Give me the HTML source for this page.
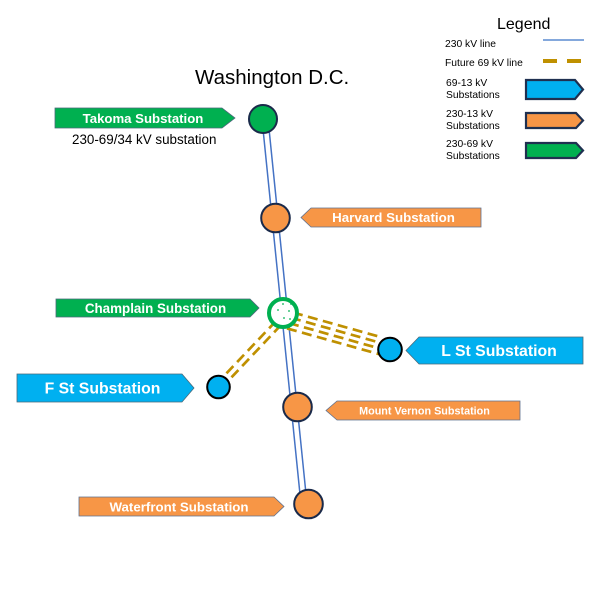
<!DOCTYPE html>
<html>
<head>
<meta charset="utf-8">
<style>
html,body{margin:0;padding:0;background:#fff;}
svg{display:block;}
text{font-family:"Liberation Sans",Arial,sans-serif;}
</style>
</head>
<body>
<svg width="600" height="600" viewBox="0 0 600 600" xmlns="http://www.w3.org/2000/svg">
<rect width="600" height="600" fill="#fff"/>

<!-- Title -->
<text x="195" y="84" font-size="20.5" fill="#000">Washington D.C.</text>

<!-- Legend -->
<text x="497" y="29" font-size="16" fill="#000">Legend</text>
<text x="445" y="47" font-size="10.3" fill="#000">230 kV line</text>
<line x1="543" y1="40" x2="584" y2="40" stroke="#5b8bd0" stroke-width="1.5"/>
<text x="445" y="66" font-size="10.3" fill="#000">Future 69 kV line</text>
<line x1="543" y1="61" x2="557" y2="61" stroke="#bf9000" stroke-width="4"/>
<line x1="567" y1="61" x2="581" y2="61" stroke="#bf9000" stroke-width="4"/>
<text x="446" y="86" font-size="10.3" fill="#000">69-13 kV</text>
<text x="446" y="98" font-size="10.3" fill="#000">Substations</text>
<polygon points="526,80 575,80 583,89.5 575,99 526,99" fill="#00b0f0" stroke="#1f3050" stroke-width="2.2"/>
<text x="446" y="117" font-size="10.3" fill="#000">230-13 kV</text>
<text x="446" y="129" font-size="10.3" fill="#000">Substations</text>
<polygon points="526,113 576,113 583,120.5 576,128 526,128" fill="#f79646" stroke="#1f3050" stroke-width="2.2"/>
<text x="446" y="147" font-size="10.3" fill="#000">230-69 kV</text>
<text x="446" y="159" font-size="10.3" fill="#000">Substations</text>
<polygon points="526,143 576,143 583,150.5 576,158 526,158" fill="#00b050" stroke="#1f3050" stroke-width="2.2"/>

<!-- 230 kV double line -->
<line x1="265" y1="119" x2="304" y2="504" stroke="#4472c4" stroke-width="7.5"/>
<line x1="265" y1="119" x2="304" y2="504" stroke="#fff" stroke-width="4.5"/>

<!-- Future 69 kV dashed lines to L St -->
<g stroke="#bf9000" stroke-width="2.7" stroke-dasharray="10,5.5" fill="none">
  <line x1="293" y1="312.5" x2="379" y2="336.6"/>
  <line x1="291" y1="317.8" x2="380" y2="342.7"/>
  <line x1="289" y1="323.1" x2="381" y2="348.9"/>
  <line x1="287" y1="328.4" x2="381" y2="354.7"/>
</g>
<!-- Future 69 kV dashed lines to F St -->
<g stroke="#bf9000" stroke-width="2.7" stroke-dasharray="10,5.5" fill="none">
  <line x1="276" y1="321" x2="222" y2="378"/>
  <line x1="281" y1="325" x2="228" y2="381"/>
</g>

<!-- Circles -->
<circle cx="263" cy="119" r="14" fill="#00b050" stroke="#1a2a4a" stroke-width="2"/>
<circle cx="275.5" cy="218" r="14.3" fill="#f79646" stroke="#1a2a4a" stroke-width="2"/>
<circle cx="283" cy="313" r="14" fill="#fff" stroke="#00b050" stroke-width="4"/>
<g fill="#00b050">
  <circle cx="283" cy="304" r="0.9"/>
  <circle cx="291" cy="304" r="0.9"/>
  <circle cx="278" cy="310" r="0.9"/>
  <circle cx="289" cy="311" r="0.9"/>
  <circle cx="284" cy="318" r="0.9"/>
  <circle cx="290" cy="319" r="0.9"/>
</g>
<circle cx="390" cy="349.5" r="11.8" fill="#00b0f0" stroke="#000" stroke-width="2"/>
<circle cx="218.5" cy="387" r="11.3" fill="#00b0f0" stroke="#000" stroke-width="2"/>
<circle cx="297.5" cy="407" r="14.3" fill="#f79646" stroke="#1a2a4a" stroke-width="2"/>
<circle cx="308.5" cy="504" r="14.3" fill="#f79646" stroke="#1a2a4a" stroke-width="2"/>

<!-- Labels -->
<!-- Takoma -->
<polygon points="55,108 222,108 235,118 222,128 55,128" fill="#00b050" stroke="#4a6a7a" stroke-width="0.8"/>
<text x="143" y="123" font-size="13.2" font-weight="bold" fill="#fff" text-anchor="middle">Takoma Substation</text>
<text x="72" y="144" font-size="13.4" fill="#000">230-69/34 kV substation</text>

<!-- Harvard -->
<polygon points="481,208 311,208 301,217.5 311,227 481,227" fill="#f79646" stroke="#5f7190" stroke-width="0.8"/>
<text x="393.5" y="222" font-size="13.3" font-weight="bold" fill="#fff" text-anchor="middle">Harvard Substation</text>

<!-- Champlain -->
<polygon points="56,299 250,299 259,308 250,317 56,317" fill="#00b050" stroke="#4a6a7a" stroke-width="0.8"/>
<text x="155.5" y="313" font-size="13.4" font-weight="bold" fill="#fff" text-anchor="middle">Champlain Substation</text>

<!-- L St -->
<polygon points="583,337 419,337 406,350.5 419,364 583,364" fill="#00b0f0" stroke="#4a6a7a" stroke-width="0.8"/>
<text x="499" y="356" font-size="15.8" font-weight="bold" fill="#fff" text-anchor="middle">L St Substation</text>

<!-- F St -->
<polygon points="17,374 182,374 194,388 182,402 17,402" fill="#00b0f0" stroke="#4a6a7a" stroke-width="0.8"/>
<text x="102.5" y="393.5" font-size="15.8" font-weight="bold" fill="#fff" text-anchor="middle">F St Substation</text>

<!-- Mount Vernon -->
<polygon points="520,401 337,401 326,410.5 337,420 520,420" fill="#f79646" stroke="#5f7190" stroke-width="0.8"/>
<text x="424.5" y="414.5" font-size="10.8" font-weight="bold" fill="#fff" text-anchor="middle">Mount Vernon Substation</text>

<!-- Waterfront -->
<polygon points="79,497 274,497 284,506.5 274,516 79,516" fill="#f79646" stroke="#5f7190" stroke-width="0.8"/>
<text x="179" y="511.5" font-size="13.3" font-weight="bold" fill="#fff" text-anchor="middle">Waterfront Substation</text>
</svg>
</body>
</html>
